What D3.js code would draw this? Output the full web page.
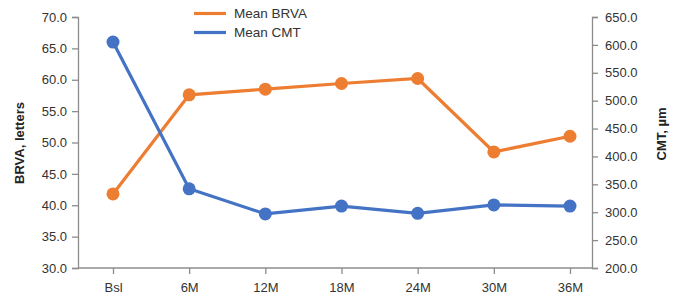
<!DOCTYPE html>
<html>
<head>
<meta charset="utf-8">
<script src="https://d3js.org/d3.v7.min.js"></script>
<style>
  body { margin: 0; background: #fff; }
  text { font-family: "Liberation Sans", Arial, sans-serif; }
</style>
</head>
<body>
<svg width="677" height="301"></svg>
<script>
// data
var categories = ["Bsl", "6M", "12M", "18M", "24M", "30M", "36M"]
var brva = [41.8, 57.6, 58.5, 59.4, 60.2, 48.5, 51.0]
var cmt = [605, 342, 297, 311, 298, 313, 311]
var leftTicks = [30, 35, 40, 45, 50, 55, 60, 65, 70]
var rightTicks = [200, 250, 300, 350, 400, 450, 500, 550, 600, 650]

var orange = "#ED7D31"
var blue = "#4472C4"
var axisColor = "#8c8c8c"

var svg = d3.select("svg")

// plot box (note: "top" is a reserved window name)
var plotLeft = 78, plotRight = 592, plotTop = 17, plotBottom = 268

var x = d3.scaleLinear().domain([0, categories.length - 1]).range([113, 570])
var yL = d3.scaleLinear().domain([30, 70]).range([plotBottom, plotTop])
var yR = d3.scaleLinear().domain([200, 650]).range([plotBottom, plotTop])

function styleAxis(g) {
    g.select(".domain").attr("stroke", axisColor).attr("stroke-width", 1.3)
    g.selectAll(".tick line").attr("stroke", axisColor).attr("stroke-width", 1.3)
    g.selectAll(".tick text").attr("fill", "#333").style("font-size", "13px")
}

// left axis
var gl = svg.append("g")
    .attr("transform", "translate(" + plotLeft + ",0)")
    .call(d3.axisLeft(yL).tickValues(leftTicks).tickFormat(d3.format(".1f")).tickSize(6).tickPadding(5).tickSizeOuter(6))
styleAxis(gl)

// right axis
var gr = svg.append("g")
    .attr("transform", "translate(" + plotRight + ",0)")
    .call(d3.axisRight(yR).tickValues(rightTicks).tickFormat(d3.format(".1f")).tickSize(6).tickPadding(7).tickSizeOuter(6))
styleAxis(gr)

// bottom axis
var gb = svg.append("g")
    .attr("transform", "translate(0," + plotBottom + ")")
    .call(d3.axisBottom(x).tickValues(d3.range(categories.length)).tickFormat(function(i){ return categories[i] }).tickSize(6).tickPadding(9).tickSizeOuter(0))
gb.select(".domain").attr("d", "M" + plotLeft + ",0H" + plotRight)
styleAxis(gb)

// axis titles
svg.append("text")
    .attr("transform", "translate(24,143) rotate(-90)")
    .attr("text-anchor", "middle")
    .style("font-size", "13px")
    .style("font-weight", "bold")
    .attr("fill", "#222")
    .text("BRVA, letters")

svg.append("text")
    .attr("transform", "translate(666,134) rotate(-90)")
    .attr("text-anchor", "middle")
    .style("font-size", "13px")
    .style("font-weight", "bold")
    .attr("fill", "#222")
    .text("CMT, µm")

// series
var series = [
    { name: "Mean BRVA", values: brva, y: yL, color: orange },
    { name: "Mean CMT", values: cmt, y: yR, color: blue }
]

series.forEach(function(s) {
    var line = d3.line()
        .x(function(d, i) { return x(i) })
        .y(function(d) { return s.y(d) })
    svg.append("path")
        .datum(s.values)
        .attr("fill", "none")
        .attr("stroke", s.color)
        .attr("stroke-width", 3.2)
        .attr("d", line)
    svg.append("g")
        .selectAll("circle")
        .data(s.values)
        .enter().append("circle")
        .attr("cx", function(d, i) { return x(i) })
        .attr("cy", function(d) { return s.y(d) })
        .attr("r", 6.5)
        .attr("fill", s.color)
})

// legend
var legend = svg.append("g")
    .selectAll("g")
    .data(series)
    .enter().append("g")
    .attr("transform", function(d, i) { return "translate(194," + (13.5 + i * 19) + ")" })
legend.append("line")
    .attr("x1", 0).attr("x2", 32)
    .attr("stroke", function(d) { return d.color })
    .attr("stroke-width", 3.2)
legend.append("text")
    .attr("x", 40)
    .attr("dy", "0.35em")
    .style("font-size", "13.5px")
    .attr("fill", "#333")
    .text(function(d) { return d.name })
</script>
</body>
</html>
